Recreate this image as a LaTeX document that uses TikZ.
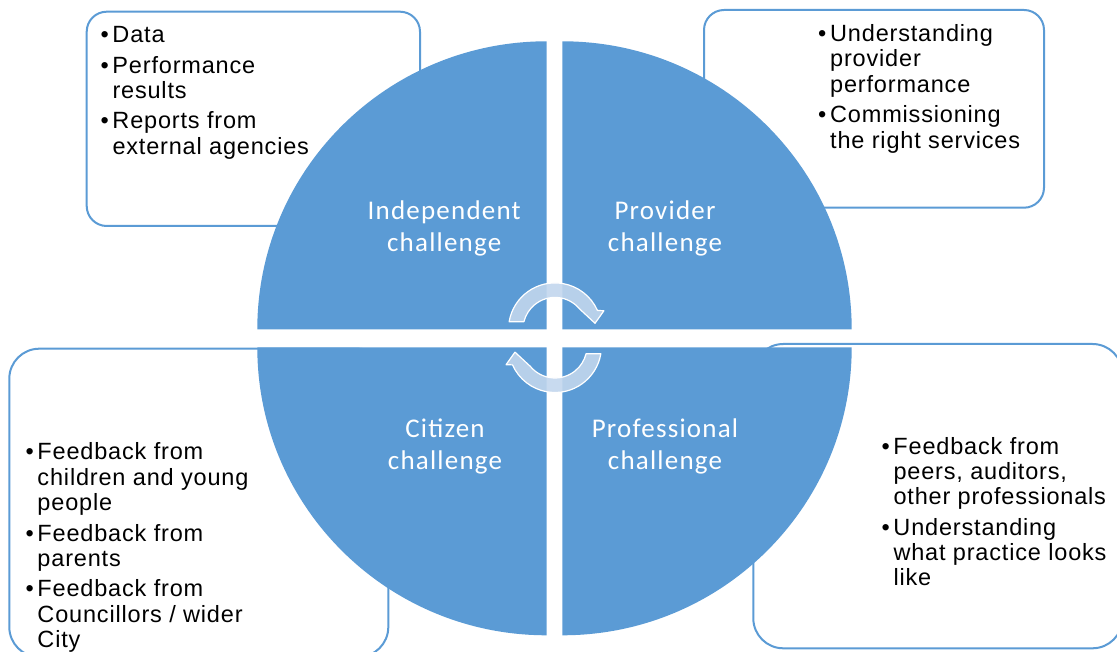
\documentclass[tikz,border=0pt]{standalone}
\usepackage{fontspec}
\setmainfont{Liberation Sans}
\newfontfamily\labelfont{Carlito}[LetterSpace=4.5]
\newfontfamily\itemfont{Liberation Sans}[LetterSpace=3.5]
\usetikzlibrary{calc}

\definecolor{quadblue}{HTML}{5B9BD5}
\definecolor{boxline}{HTML}{5B9BD5}
\definecolor{cyclefill}{RGB}{194,214,237}

% bullet column of the lists
\newcommand\bul{\makebox[12pt][l]{•}}

\tikzset{
  quadrant/.style={fill=quadblue},
  infobox/.style={draw=boxline, line width=2pt, fill=white, inner sep=0pt},
  itemtext/.style={anchor=base west, inner sep=0pt,
    font={\itemfont\fontsize{23.5}{25.3}\selectfont}},
  quadlabel/.style={anchor=base, inner sep=0pt, text=white,
    font={\labelfont\fontsize{27}{32}\selectfont}},
  cycleshape/.style={fill=cyclefill, fill opacity=0.9, draw=white,
    line width=1.2pt, line join=round},
  cyclearrow/.pic={
    \path[cycleshape] (170.5:46.5) arc[start angle=170.5, end angle=24, radius=46.5]
      -- (20.9:52.4) -- (8.7:40.5) -- (39.6:32)
      arc[start angle=39.6, end angle=166, radius=32] -- cycle;
  }
}

\begin{document}
\begin{tikzpicture}[x=1pt, y=1pt]
\useasboundingbox (0,0) rectangle (1117,651);
\clip (0,0) rectangle (1117,651);

% outer boxes holding the bullet lists
\node[infobox, minimum width=333.3pt, minimum height=214.3pt, rounded corners=20pt] (boxTL) at (253.35,532.15) {};
\node[infobox, minimum width=340pt, minimum height=197.7pt, rounded corners=20pt] (boxTR) at (874,542.15) {};
\node[infobox, minimum width=379pt, minimum height=308.3pt, rounded corners=30pt] (boxBL) at (198.8,148.15) {};
\node[infobox, minimum width=369.2pt, minimum height=304.3pt, rounded corners=30pt] (boxBR) at (937.9,154.85) {};

% four quarter discs
\coordinate (cTL) at (546.7,321.7);
\coordinate (cTR) at (562.3,321.7);
\coordinate (cBL) at (546.7,303.7);
\coordinate (cBR) at (562.3,303.7);
\fill[quadrant] (cTL) -- ++(-289.4,0) arc[start angle=180, end angle=90, x radius=289.4, y radius=288] -- cycle;
\fill[quadrant] (cTR) -- ++(289.4,0) arc[start angle=0, end angle=90, x radius=289.4, y radius=288] -- cycle;
\fill[quadrant] (cBL) -- ++(-289.4,0) arc[start angle=180, end angle=270, x radius=289.4, y radius=288] -- cycle;
\fill[quadrant] (cBR) -- ++(289.4,0) arc[start angle=360, end angle=270, x radius=289.4, y radius=288] -- cycle;

% cycle arrows in the middle
\coordinate (cycleA) at (555,321.6);
\coordinate (cycleB) at (555,305);
\pic at (cycleA) {cyclearrow};
\pic[rotate=180] at (cycleB) {cyclearrow};

% quadrant titles
\node[quadlabel] (labTL) at (444.2,431) {\begin{tabular}[t]{@{}c@{}}Independent\\challenge\end{tabular}};
\node[quadlabel] (labTR) at (665,431) {\begin{tabular}[t]{@{}c@{}}Provider\\challenge\end{tabular}};
\node[quadlabel] (labBL) at (445,213.5) {\begin{tabular}[t]{@{}c@{}}Citizen\\challenge\end{tabular}};
\node[quadlabel] (labBR) at (665,213.5) {\begin{tabular}[t]{@{}c@{}}Professional\\challenge\end{tabular}};

% bullet lists
\node[itemtext] (txtTL) at (100.3,608.3) {\begin{tabular}[t]{@{}l@{}l@{}}
\bul & Data\\[5.2pt]
\bul & Performance\\
     & results\\[5.2pt]
\bul & Reports from\\
     & external agencies
\end{tabular}};

\node[itemtext] (txtTR) at (818,609.3) {\begin{tabular}[t]{@{}l@{}l@{}}
\bul & Understanding\\
     & provider\\
     & performance\\[5.2pt]
\bul & Commissioning\\
     & the right services
\end{tabular}};

\node[itemtext] (txtBL) at (25.3,191) {\begin{tabular}[t]{@{}l@{}l@{}}
\bul & Feedback from\\
     & children and young\\
     & people\\[5.2pt]
\bul & Feedback from\\
     & parents\\[5.2pt]
\bul & Feedback from\\
     & Councillors / wider\\
     & City
\end{tabular}};

\node[itemtext] (txtBR) at (881.3,196.7) {\begin{tabular}[t]{@{}l@{}l@{}}
\bul & Feedback from\\
     & peers, auditors,\\
     & other professionals\\[5.2pt]
\bul & Understanding\\
     & what practice looks\\
     & like
\end{tabular}};
\end{tikzpicture}
\end{document}
